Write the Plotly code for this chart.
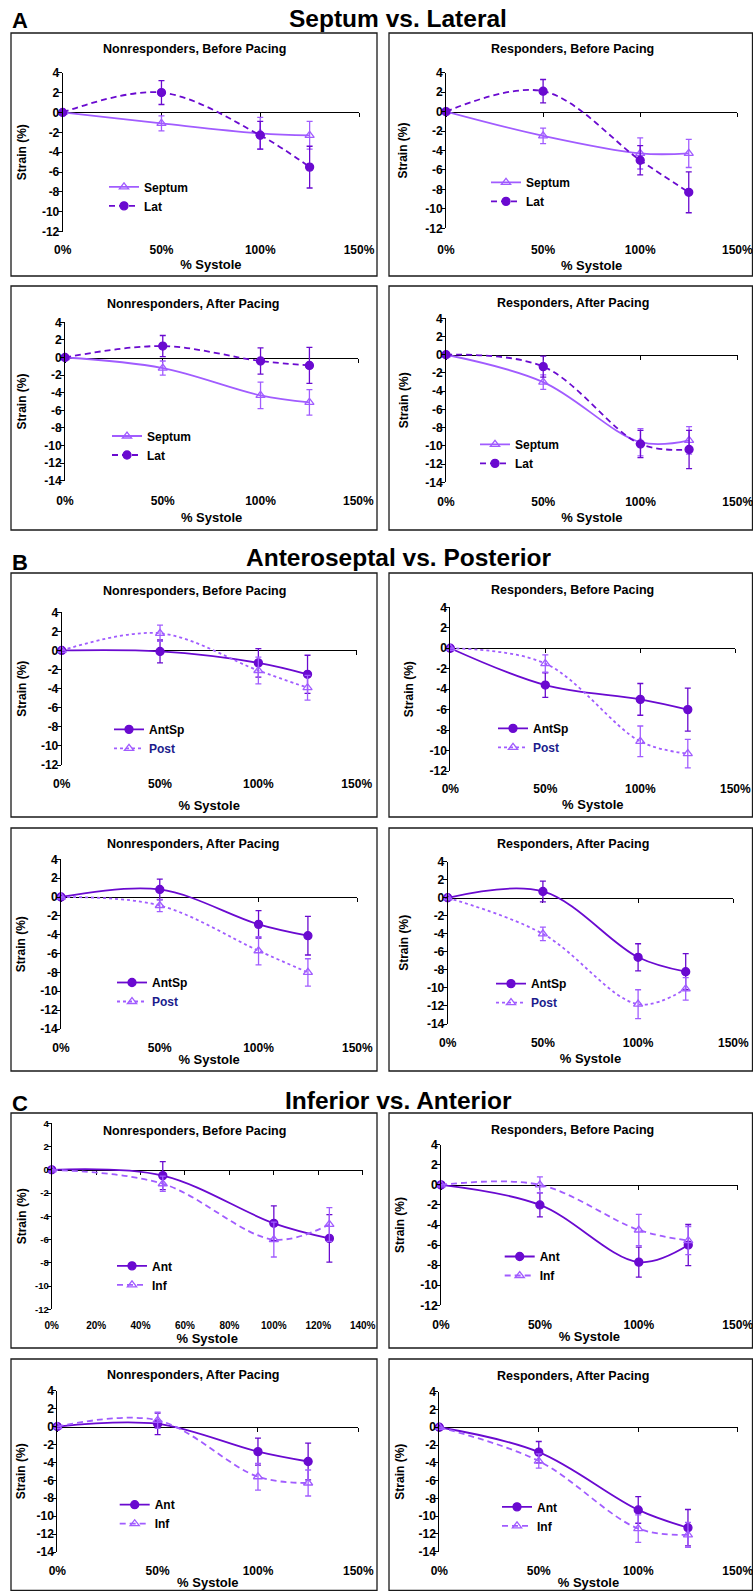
import plotly.graph_objects as go

W, H = 753, 1591
FONT_FAMILY = "Liberation Sans, Arial, Helvetica, sans-serif"
DARK = "#6A0AD0"
LIGHT = "#A15CFF"
NAVY = "#1C1C8C"

# ---------------- data ----------------
X_PCT = [0.0, 0.5, 1.0, 1.25]

X_TICKVALS_STD = [0.0, 0.5, 1.0, 1.5]
X_TICKTEXT_STD = ["0%", "50%", "100%", "150%"]
X_TICKVALS_FINE = [0.0, 0.2, 0.4, 0.6, 0.8, 1.0, 1.2, 1.4]
X_TICKTEXT_FINE = ["0%", "20%", "40%", "60%", "80%", "100%", "120%", "140%"]
Y_TICKVALS_12 = [4, 2, 0, -2, -4, -6, -8, -10, -12]
Y_TICKTEXT_12 = ["4", "2", "0", "-2", "-4", "-6", "-8", "-10", "-12"]
Y_TICKVALS_14 = [4, 2, 0, -2, -4, -6, -8, -10, -12, -14]
Y_TICKTEXT_14 = ["4", "2", "0", "-2", "-4", "-6", "-8", "-10", "-12", "-14"]

SECTION_LETTERS = ["A", "B", "C"]
SECTION_TITLES = ["Septum vs. Lateral", "Anteroseptal vs. Posterior", "Inferior vs. Anterior"]
PANEL_TITLES = ["Nonresponders, Before Pacing", "Responders, Before Pacing",
                "Nonresponders, After Pacing", "Responders, After Pacing"]
SERIES_NAMES = {"A": ["Septum", "Lat"], "B": ["AntSp", "Post"], "C": ["Ant", "Inf"]}
X_TITLE = "% Systole"
Y_TITLE = "Strain (%)"

# Septum vs. Lateral
A_NR_BEFORE_SEPTUM = [0, -1.1, -2.1, -2.3]
A_NR_BEFORE_SEPTUM_ERR = [None, 0.75, 1.6, 1.4]
A_NR_BEFORE_LAT = [0, 2.0, -2.3, -5.5]
A_NR_BEFORE_LAT_ERR = [None, 1.2, 1.4, 2.1]
A_R_BEFORE_SEPTUM = [0, -2.5, -4.3, -4.3]
A_R_BEFORE_SEPTUM_ERR = [None, 0.8, 1.6, 1.45]
A_R_BEFORE_LAT = [0, 2.1, -5.0, -8.3]
A_R_BEFORE_LAT_ERR = [None, 1.2, 1.5, 2.1]
A_NR_AFTER_SEPTUM = [0, -1.2, -4.3, -5.1]
A_NR_AFTER_SEPTUM_ERR = [None, 0.8, 1.5, 1.45]
A_NR_AFTER_LAT = [0, 1.3, -0.4, -0.9]
A_NR_AFTER_LAT_ERR = [None, 1.2, 1.5, 2.05]
A_R_AFTER_SEPTUM = [0, -3.0, -9.6, -9.4]
A_R_AFTER_SEPTUM_ERR = [None, 0.8, 1.5, 1.5]
A_R_AFTER_LAT = [0, -1.3, -9.8, -10.4]
A_R_AFTER_LAT_ERR = [None, 1.15, 1.5, 2.1]

# Anteroseptal vs. Posterior
B_NR_BEFORE_ANTSP = [0, -0.1, -1.3, -2.5]
B_NR_BEFORE_ANTSP_ERR = [None, 1.2, 1.5, 2.0]
B_NR_BEFORE_POST = [0, 1.8, -2.1, -3.9]
B_NR_BEFORE_POST_ERR = [None, 0.85, 1.4, 1.3]
B_R_BEFORE_ANTSP = [0, -3.6, -5.0, -6.0]
B_R_BEFORE_ANTSP_ERR = [None, 1.2, 1.55, 2.1]
B_R_BEFORE_POST = [0, -1.5, -9.1, -10.3]
B_R_BEFORE_POST_ERR = [None, 0.85, 1.5, 1.4]
B_NR_AFTER_ANTSP = [0, 0.8, -2.9, -4.1]
B_NR_AFTER_ANTSP_ERR = [None, 1.1, 1.45, 2.05]
B_NR_AFTER_POST = [0, -0.9, -5.7, -8.0]
B_NR_AFTER_POST_ERR = [None, 0.65, 1.5, 1.45]
B_R_AFTER_ANTSP = [0, 0.7, -6.6, -8.2]
B_R_AFTER_ANTSP_ERR = [None, 1.15, 1.5, 2.0]
B_R_AFTER_POST = [0, -4.0, -11.8, -10.1]
B_R_AFTER_POST_ERR = [None, 0.75, 1.6, 1.25]

# Inferior vs. Anterior
C_NR_BEFORE_ANT = [0, -0.5, -4.6, -5.9]
C_NR_BEFORE_ANT_ERR = [None, 1.2, 1.5, 2.05]
C_NR_BEFORE_INF = [0, -1.2, -6.0, -4.7]
C_NR_BEFORE_INF_ERR = [None, 0.65, 1.5, 1.45]
C_R_BEFORE_ANT = [0, -2.0, -7.7, -6.0]
C_R_BEFORE_ANT_ERR = [None, 1.2, 1.5, 2.05]
C_R_BEFORE_INF = [0, 0.0, -4.5, -5.55]
C_R_BEFORE_INF_ERR = [None, 0.8, 1.55, 1.4]
C_NR_AFTER_ANT = [0, 0.3, -2.8, -3.9]
C_NR_AFTER_ANT_ERR = [None, 1.2, 1.5, 2.05]
C_NR_AFTER_INF = [0, 0.7, -5.6, -6.3]
C_NR_AFTER_INF_ERR = [None, 0.9, 1.5, 1.45]
C_R_AFTER_ANT = [0, -2.8, -9.3, -11.3]
C_R_AFTER_ANT_ERR = [None, 1.2, 1.5, 2.05]
C_R_AFTER_INF = [0, -3.8, -11.4, -12.1]
C_R_AFTER_INF_ERR = [None, 0.8, 1.55, 1.4]

PANEL_DATA = [
    ("A", [(A_NR_BEFORE_SEPTUM, A_NR_BEFORE_SEPTUM_ERR), (A_NR_BEFORE_LAT, A_NR_BEFORE_LAT_ERR)]),
    ("A", [(A_R_BEFORE_SEPTUM, A_R_BEFORE_SEPTUM_ERR), (A_R_BEFORE_LAT, A_R_BEFORE_LAT_ERR)]),
    ("A", [(A_NR_AFTER_SEPTUM, A_NR_AFTER_SEPTUM_ERR), (A_NR_AFTER_LAT, A_NR_AFTER_LAT_ERR)]),
    ("A", [(A_R_AFTER_SEPTUM, A_R_AFTER_SEPTUM_ERR), (A_R_AFTER_LAT, A_R_AFTER_LAT_ERR)]),
    ("B", [(B_NR_BEFORE_ANTSP, B_NR_BEFORE_ANTSP_ERR), (B_NR_BEFORE_POST, B_NR_BEFORE_POST_ERR)]),
    ("B", [(B_R_BEFORE_ANTSP, B_R_BEFORE_ANTSP_ERR), (B_R_BEFORE_POST, B_R_BEFORE_POST_ERR)]),
    ("B", [(B_NR_AFTER_ANTSP, B_NR_AFTER_ANTSP_ERR), (B_NR_AFTER_POST, B_NR_AFTER_POST_ERR)]),
    ("B", [(B_R_AFTER_ANTSP, B_R_AFTER_ANTSP_ERR), (B_R_AFTER_POST, B_R_AFTER_POST_ERR)]),
    ("C", [(C_NR_BEFORE_ANT, C_NR_BEFORE_ANT_ERR), (C_NR_BEFORE_INF, C_NR_BEFORE_INF_ERR)]),
    ("C", [(C_R_BEFORE_ANT, C_R_BEFORE_ANT_ERR), (C_R_BEFORE_INF, C_R_BEFORE_INF_ERR)]),
    ("C", [(C_NR_AFTER_ANT, C_NR_AFTER_ANT_ERR), (C_NR_AFTER_INF, C_NR_AFTER_INF_ERR)]),
    ("C", [(C_R_AFTER_ANT, C_R_AFTER_ANT_ERR), (C_R_AFTER_INF, C_R_AFTER_INF_ERR)]),
]

# ---------------- styles / geometry (pixels) ----------------
STYLE = {
    "A": [dict(color=LIGHT, dash="solid", symbol="triangle-up-open", text=None),
          dict(color=DARK, dash="6px,4px", symbol="circle", text=None)],
    "B": [dict(color=DARK, dash="solid", symbol="circle", text=None),
          dict(color=LIGHT, dash="3px,3px", symbol="triangle-up-open", text=NAVY)],
    "C": [dict(color=DARK, dash="solid", symbol="circle", text=None),
          dict(color=LIGHT, dash="6px,4px", symbol="triangle-up-open", text=None)],
}

# plot area (x0, x1, ytop, ybot), box, title xy, legend (line x, row1 y, row2 y), ytitle x, xticks y, xtitle y
GEOM = [
    ((62.7, 359.0, 72.7, 231.7), (11, 33, 377, 276), (194, 49), (112, 188, 204.7), 22.7, 249, 265),
    ((446.0, 737.3, 72.7, 228.3), (389, 33, 752.5, 276), (572.5, 49), (494, 182.7, 201), 403.3, 248.3, 265),
    ((65.0, 358.3, 322.3, 480.7), (11, 286, 377, 530), (193, 304), (115, 436.7, 454.3), 22.7, 500, 518),
    ((446.0, 737.7, 318.3, 482.3), (389, 286, 752.5, 530), (572.5, 303.3), (483, 445, 462.7), 405, 500.7, 518.3),
    ((61.7, 356.7, 612.3, 765.0), (11, 573, 377, 817), (194, 590.7), (117, 730, 747.7), 22.7, 783, 805),
    ((450.3, 735.3, 607.3, 771.0), (389, 573, 752.5, 817), (572, 590), (501, 729, 746.7), 409.3, 788, 804),
    ((61.0, 357.3, 859.3, 1029.0), (11, 828, 377, 1071), (193.5, 844.3), (120, 983.3, 1000.7), 21.7, 1046.7, 1058.3),
    ((447.7, 733.3, 861.7, 1024.0), (389, 828, 752.5, 1071), (572.5, 844.3), (499, 984, 1002.3), 405, 1042.3, 1058.3),
    ((51.7, 362.7, 1123.3, 1309.3), (11, 1113, 377, 1348), (194.3, 1130.7), (120, 1266.7, 1284), 21.7, 1325, 1337),
    ((441.0, 737.7, 1144.7, 1305.3), (389, 1113, 752.5, 1348), (572.5, 1130), (507.7, 1257.7, 1274.3), 400.7, 1323.3, 1336.7),
    ((57.3, 358.3, 1390.7, 1552.0), (11, 1359, 377, 1590.5), (193.5, 1375), (122.7, 1505.7, 1522.7), 21.7, 1570, 1582.7),
    ((439.3, 737.7, 1391.7, 1551.7), (389, 1359, 752.5, 1590.5), (572.5, 1375.7), (505, 1507.7, 1525), 400.7, 1570, 1583.3),
]
SECTION_POS = [((20, 20), (398, 18.5)), ((20, 562), (398, 557)), ((20, 1103), (398, 1100))]


def px_x(v):
    return v / W


def px_y(v):
    return 1 - v / H


fig = go.Figure()
layout = dict(
    width=W, height=H, margin=dict(l=0, r=0, t=0, b=0, pad=0, autoexpand=False),
    paper_bgcolor="white", plot_bgcolor="rgba(0,0,0,0)",
    font=dict(family=FONT_FAMILY, size=12, color="black", weight="bold"),
    showlegend=True, hovermode=False,
)
annotations = []
shapes = []

for i, (sec, series) in enumerate(PANEL_DATA):
    n = i + 1
    sfx = "" if n == 1 else str(n)
    m = n + 12
    (x0, x1, yt, yb), box, tpos, leg, ytitle_x, xticks_y, xtitle_y = GEOM[i]
    fine = (i == 8)
    xrange = [0, 1.4] if fine else [0, 1.5]
    ylo = -12 if i in (0, 1, 4, 5, 8, 9) else -14
    yvals = Y_TICKVALS_12 if ylo == -12 else Y_TICKVALS_14
    ytext = Y_TICKTEXT_12 if ylo == -12 else Y_TICKTEXT_14
    xfs = 10 if fine else 12
    yfs = 9.5 if fine else 12
    legend_id = "legend" + sfx

    for k, (vals, errs) in enumerate(series):
        st = STYLE[sec][k]
        name = SERIES_NAMES[sec][k]
        if st["text"]:
            name = f"<span style='color:{st['text']}'>{name}</span>"
        # second series lives on the overlay x-axis (identical range) that draws the zero line
        xa = ("x" + sfx) if k == 0 else ("x" + str(m))
        fig.add_trace(go.Scatter(
            x=X_PCT, y=vals, name=name, mode="lines+markers",
            xaxis=xa, yaxis="y" + sfx, legend=legend_id,
            line=dict(color=st["color"], width=1.8, dash=st["dash"], shape="spline", smoothing=1),
            marker=dict(symbol=st["symbol"], size=8, color=st["color"],
                        line=dict(color=st["color"], width=1.3)),
            error_y=dict(type="data", array=errs, color=st["color"], thickness=1.3, width=3),
            cliponaxis=False, hoverinfo="skip",
        ))

    dx = [px_x(x0), px_x(x1)]
    dy = [px_y(yb), px_y(yt)]
    gap = xticks_y - yb
    ticklen_x = max(0, round(gap - 3 - 0.6 * xfs))
    x_standoff = max(0, (xtitle_y - xticks_y) - 0.5 * xfs - 6.5)
    label_w = 17.3 if not fine else 13.7
    y_standoff = max(0, (x0 - ytitle_x) - 6.5 - (4 + 2 + label_w)) + 2

    layout["xaxis" + sfx] = dict(
        domain=dx, anchor="y" + sfx, range=xrange, fixedrange=True, automargin=False,
        tickvals=X_TICKVALS_FINE if fine else X_TICKVALS_STD,
        ticktext=X_TICKTEXT_FINE if fine else X_TICKTEXT_STD,
        ticks="outside", ticklen=ticklen_x, tickcolor="rgba(0,0,0,0)",
        ticklabeloverflow="allow",
        showline=False, showgrid=False, zeroline=False,
        tickfont=dict(size=xfs),
        title=dict(text=X_TITLE, font=dict(size=13), standoff=x_standoff),
    )
    layout["yaxis" + sfx] = dict(
        domain=dy, anchor="x" + sfx, range=[ylo, 4], fixedrange=True, automargin=False,
        tickvals=yvals, ticktext=ytext,
        ticks="outside", ticklen=4, tickcolor="black", tickwidth=1,
        ticklabelstandoff=-4,
        showline=True, linecolor="black", linewidth=1,
        showgrid=False, zeroline=False,
        tickfont=dict(size=yfs),
        title=dict(text=Y_TITLE, font=dict(size=12), standoff=y_standoff),
    )
    # axis crossing at y = 0, with its tick marks
    zero_frac = (0 - ylo) / (4 - ylo)
    layout["xaxis" + str(m)] = dict(
        overlaying="x" + sfx, anchor="free", automargin=False,
        position=dy[0] + zero_frac * (dy[1] - dy[0]),
        range=xrange, fixedrange=True,
        tickvals=X_TICKVALS_FINE if fine else X_TICKVALS_STD,
        showticklabels=False, ticks="outside", ticklen=4, tickcolor="black", tickwidth=1,
        showline=True, linecolor="black", linewidth=1,
        showgrid=False, zeroline=False, layer="below traces",
    )
    layout[legend_id] = dict(
        x=px_x(leg[0] - 8), y=px_y((leg[1] + leg[2]) / 2),
        xanchor="left", yanchor="middle",
        bgcolor="rgba(0,0,0,0)", borderwidth=0,
        font=dict(size=12, color="black"), itemwidth=30, tracegroupgap=0,
    )
    annotations.append(dict(
        text=PANEL_TITLES[i % 4], x=px_x(tpos[0]), y=px_y(tpos[1]),
        xref="paper", yref="paper", xanchor="center", yanchor="middle",
        showarrow=False, font=dict(size=12.5),
    ))
    shapes.append(dict(
        type="rect", xref="paper", yref="paper",
        x0=px_x(box[0]), x1=px_x(box[2]), y0=px_y(box[3]), y1=px_y(box[1]),
        line=dict(color="#1a1a1a", width=1.3), fillcolor="rgba(0,0,0,0)", layer="below",
    ))

for s in range(3):
    (lx, ly), (tx, ty) = SECTION_POS[s]
    annotations.append(dict(
        text=SECTION_LETTERS[s], x=px_x(lx), y=px_y(ly), xref="paper", yref="paper",
        xanchor="center", yanchor="middle", showarrow=False, font=dict(size=22),
    ))
    annotations.append(dict(
        text=SECTION_TITLES[s], x=px_x(tx), y=px_y(ty), xref="paper", yref="paper",
        xanchor="center", yanchor="middle", showarrow=False, font=dict(size=24.5),
    ))

layout["annotations"] = annotations
layout["shapes"] = shapes
fig.update_layout(**layout)
fig.write_html(
    "out.html",
    config={"displayModeBar": False, "staticPlot": True},
    post_script="document.body.style.margin='0px';document.body.style.overflow='hidden';",
)
